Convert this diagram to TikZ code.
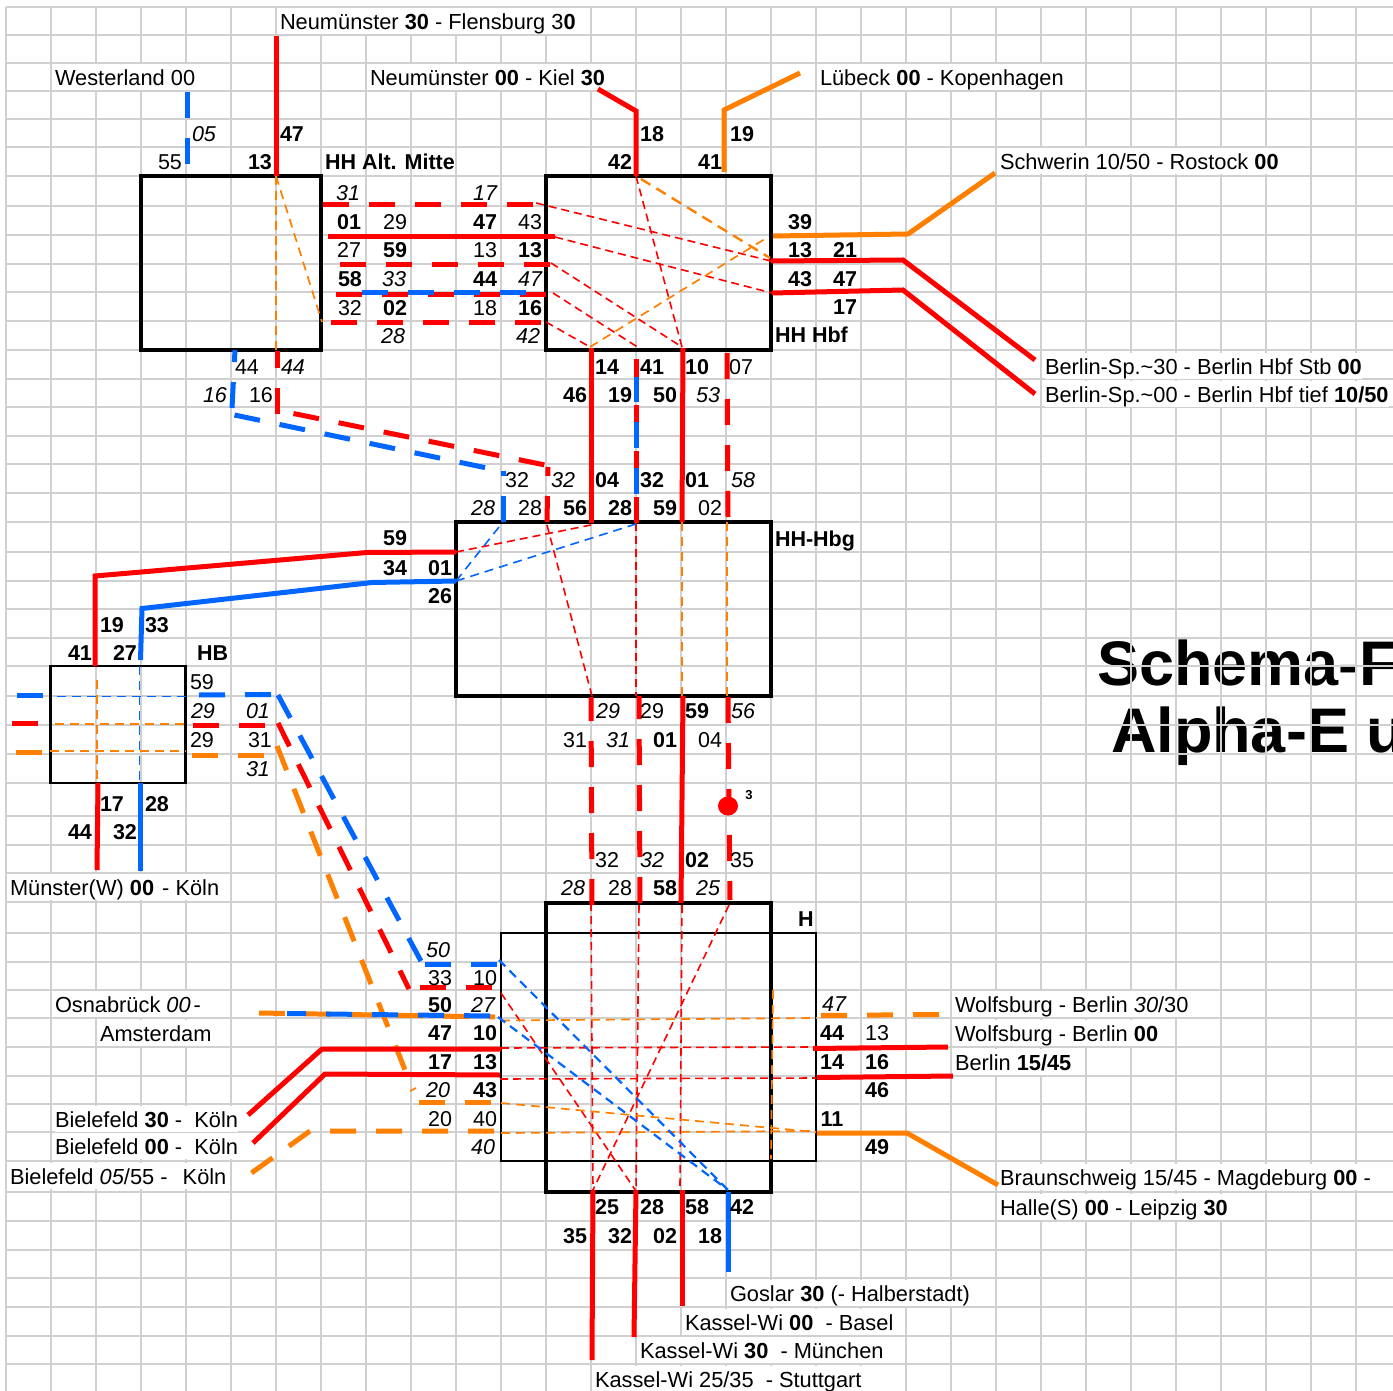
\documentclass[tikz,border=0pt]{standalone}
\usepackage{fontspec}
\usepackage{xcolor}
\setmainfont{Liberation Sans}
\usetikzlibrary{arrows.meta,positioning}

\definecolor{lineRed}{HTML}{FF0000}
\definecolor{lineBlue}{HTML}{0066FF}
\definecolor{lineOrange}{HTML}{FF8000}
\definecolor{gridGray}{HTML}{D0D0D0}

\begin{document}
\begin{tikzpicture}[
  x=1pt, y=-1pt,
  every node/.style={inner sep=0pt, outer sep=0pt, font=\fontsize{21.5}{24}\selectfont},
  stationbox/.style={rectangle, draw=black, line width=3.5pt},
  stationthin/.style={rectangle, draw=black, line width=2.6pt},
  redline/.style={draw=lineRed, line width=5pt},
  blueline/.style={draw=lineBlue, line width=5pt},
  orangeline/.style={draw=lineOrange, line width=5pt},
  longdash/.style={dash pattern=on 26pt off 20pt},
  redthin/.style={draw=lineRed, line width=1.6pt, dash pattern=on 8pt off 5pt},
  bluethin/.style={draw=lineBlue, line width=2.2pt, dash pattern=on 9pt off 6pt},
  orangethin/.style={draw=lineOrange, line width=1.7pt, dash pattern=on 9pt off 6pt},
  num/.style={anchor=center, text height=15.5pt, text depth=0pt},
  numb/.style={num, font=\fontsize{21.5}{24}\selectfont\bfseries},
  numi/.style={num, font=\fontsize{21.5}{24}\selectfont\itshape},
  caption/.style={anchor=west, fill=white, font=\fontsize{21.8}{24}\selectfont, text height=21.2pt, text depth=4.5pt},
  stationname/.style={anchor=west, font=\fontsize{21.5}{24}\selectfont\bfseries, text height=15.5pt, text depth=0pt},
  headline/.style={anchor=base west, font=\fontsize{63}{66}\selectfont\bfseries}
]
\fill[white] (0,0) rectangle (1393,1391);
\useasboundingbox (0,0) rectangle (1393,1391);
\clip (0,0) rectangle (1393,1391);

% title lies under the grid
\node[headline] (title1) at (1097,685) {Schema-F};
\node[headline] (title2) at (1111,752) {Alpha-E u};

% sheet grid
\foreach \gx in {0,...,30}
  \draw[gridGray, line width=1.7pt] ({6+45*\gx},7) -- ({6+45*\gx},1391);
\foreach \gy in {7,35,63,91,119,147,176,206,235,264,292,321,350,379,407,436,464,493,522,552,581,609,638,666,696,725,754,783,816,845,873,902,933,962,990,1018,1047,1076,1104,1132,1161,1192,1221,1250,1278,1307,1336,1364}
  \draw[gridGray, line width=1.7pt] (6,\gy) -- (1393,\gy);

% line names
\node[caption] (capFlens) at (280,21) {Neumünster \textbf{30} - Flensburg 3\textbf{0}};
\node[caption] (capWest) at (55,77) {Westerland 00};
\node[caption] (capKiel) at (370,77) {Neumünster \textbf{00} - Kiel \textbf{30}};
\node[caption] (capLueb) at (820,77) {Lübeck \textbf{00} - Kopenhagen};
\node[caption] (capRost) at (1000,161) {Schwerin 10/50 - Rostock \textbf{00}};
\node[caption] (capBer1) at (1045,366) {Berlin-Sp.\textasciitilde30 - Berlin Hbf Stb \textbf{00}};
\node[caption] (capBer2) at (1045,394) {Berlin-Sp.\textasciitilde00 - Berlin Hbf tief \textbf{10/50}};
\node[caption] (capMuen) at (10,887) {Münster(W) \textbf{00}\hspace{2pt} - Köln};
\node[caption] (capOsna) at (55,1004) {Osnabrück \textit{00}\hspace{3pt}-};
\node[caption] (capAmst) at (100,1033) {Amsterdam};
\node[caption] (capWob1) at (955,1004) {Wolfsburg - Berlin \textit{30}/30};
\node[caption] (capWob2) at (955,1033) {Wolfsburg - Berlin \textbf{00}};
\node[caption] (capBer3) at (955,1062) {Berlin \textbf{15/45}};
\node[caption] (capBie1) at (55,1119) {Bielefeld \textbf{30} -\ \ Köln};
\node[caption] (capBie2) at (55,1146) {Bielefeld \textbf{00} -\ \ Köln};
\node[caption] (capBie3) at (10,1176) {Bielefeld \textit{05}/55 -\hspace{3pt}\ \ Köln};
\node[caption] (capBrau) at (1000,1177) {Braunschweig 15/45 - Magdeburg \textbf{00} -};
\node[caption] (capHall) at (1000,1207) {Halle(S) \textbf{00} - Leipzig \textbf{30}};
\node[caption] (capGosl) at (730,1293) {Goslar \textbf{30} (- Halberstadt)};
\node[caption] (capBase) at (685,1322) {Kassel-Wi \textbf{00}\ \ - Basel};
\node[caption] (capMuc) at (640,1350) {Kassel-Wi \textbf{30}\ \ - München};
\node[caption] (capStut) at (595,1379) {Kassel-Wi 25/35\ \ - Stuttgart};

% stations
\node[stationbox, minimum width=180pt, minimum height=174pt] (alt) at (231,263) {};
\node[stationbox, minimum width=225pt, minimum height=174pt] (hbf) at (658.5,263) {};
\node[stationbox, minimum width=315pt, minimum height=174pt] (hbg) at (613.5,609) {};
\node[stationthin, minimum width=135pt, minimum height=117pt] (hb) at (118,724.5) {};
\node[stationbox, minimum width=225pt, minimum height=289pt] (hanA) at (658.5,1047.5) {};
\node[stationthin, minimum width=315pt, minimum height=228pt] (hanB) at (658.5,1047) {};
\node[stationname] (nameAlt) at (325,162) {HH Alt. Mitte};
\node[stationname] (nameHbf) at (775,335) {HH Hbf};
\node[stationname] (nameHbg) at (775,539) {HH-Hbg};
\node[stationname] (nameHb) at (197,653) {HB};
\node[stationname] (nameHan) at (798,919) {H};

% end and bend points
\coordinate (flens) at (276,36); \coordinate (altN) at (276,176);
\coordinate (altS) at (276,350); \coordinate (altE) at (322,322);
\coordinate (west1) at (187,92); \coordinate (west2) at (187,165);
\coordinate (aH1a) at (323,205); \coordinate (aH1b) at (534,205);
\coordinate (aH2a) at (328,237); \coordinate (aH2b) at (555,237);
\coordinate (aH3a) at (340,265); \coordinate (aH3b) at (551,265);
\coordinate (aH4a) at (336,294.5); \coordinate (aH4b) at (547,294.5);
\coordinate (aH4c) at (362,293); \coordinate (aH4d) at (526,293);
\coordinate (aH5a) at (331,322); \coordinate (aH5b) at (541,322);
\coordinate (hIn1) at (536,203); \coordinate (hIn3) at (551,263);
\coordinate (hIn4) at (553,293); \coordinate (hIn5) at (546,322);
\coordinate (hS1) at (590,347); \coordinate (hS2) at (639,348); \coordinate (hS3) at (682,347);
\coordinate (kiel) at (598,89); \coordinate (kiel1) at (636,111); \coordinate (hN1) at (636,176);
\coordinate (hNor) at (641,179); \coordinate (hEor) at (770,258); \coordinate (hEor2) at (768,237);
\coordinate (lueb) at (800,73); \coordinate (lueb1) at (724,110); \coordinate (hN2) at (724,172);
\coordinate (sch0) at (773,236); \coordinate (sch1) at (908,234); \coordinate (sch2) at (995,173);
\coordinate (hR1) at (771,261); \coordinate (ber1) at (903,260); \coordinate (ber2) at (1035,360);
\coordinate (hR2) at (772,293); \coordinate (ber3) at (903,290); \coordinate (ber4) at (1035,394);
% Hbf to Hbg
\coordinate (sA) at (591,348); \coordinate (gA) at (591,523);
\coordinate (sBr) at (636,359); \coordinate (gB) at (636,523);
\coordinate (sBb) at (636,377); \coordinate (gBb) at (636,494);
\coordinate (sC) at (683,348); \coordinate (gC) at (682,522);
\coordinate (sD) at (727,353); \coordinate (gD) at (728,517);
% Alt to Hbg
\coordinate (altB1) at (235,350); \coordinate (altB2) at (232,408);
\coordinate (altB3) at (234.5,415); \coordinate (altB4) at (487,468);
\coordinate (gE) at (503,522); \coordinate (gE1) at (503,471);
\coordinate (altR1) at (277,351); \coordinate (altR2) at (277,414);
\coordinate (altR3) at (293.5,413.5); \coordinate (altR4) at (545,465);
\coordinate (gF) at (547,522); \coordinate (gF1) at (548,467);
% inside Hbg
\coordinate (gW1) at (456,552); \coordinate (gW2) at (456,581);
\coordinate (gIn1) at (591,525); \coordinate (gIn2) at (636,524);
\coordinate (gSt) at (547,525); \coordinate (gSa) at (592,696);
\coordinate (gB2) at (636,696); \coordinate (gC2) at (682,696); \coordinate (gD2) at (727,696);
\coordinate (gD0) at (727,522); \coordinate (gC0) at (682,522);
% Hbg to HB
\coordinate (wR1) at (367,552.5); \coordinate (wR2) at (95,576); \coordinate (wR3) at (95,666);
\coordinate (wB1) at (372,582.5); \coordinate (wB2) at (142,608.5); \coordinate (wB3) at (140.5,660);
\coordinate (koelR1) at (98,783); \coordinate (koelR2) at (97,870);
\coordinate (koelB1) at (140,783); \coordinate (koelB2) at (140,871);
% inside HB
\coordinate (hbV1) at (97,680); \coordinate (hbV1b) at (97,783);
\coordinate (hbV2) at (139.5,666); \coordinate (hbV2b) at (139.5,783);
\coordinate (hbH1) at (57,696.5); \coordinate (hbH1b) at (190,696.5);
\coordinate (hbH2) at (55,724); \coordinate (hbH2b) at (187,724);
\coordinate (hbH3) at (50,751); \coordinate (hbH3b) at (186,751);
% stubs either side of HB
\coordinate (sbA) at (17,695); \coordinate (sbB) at (43,695);
\coordinate (srA) at (12,723); \coordinate (srB) at (39,723);
\coordinate (soA) at (16,752); \coordinate (soB) at (42,752);
\coordinate (ebA) at (199,695); \coordinate (ebB) at (272,694.5);
\coordinate (erA) at (193,725); \coordinate (erB) at (266,725);
\coordinate (eoA) at (192,755); \coordinate (eoB) at (264,755);
% HB to H
\coordinate (dB1) at (278,695); \coordinate (dB2) at (422,963);
\coordinate (dR1) at (278,723); \coordinate (dR2) at (409,989);
\coordinate (dO1) at (277,746); \coordinate (dO2) at (405,1070);
\coordinate (dO3) at (410,1091); \coordinate (dO4) at (416,1088);
\coordinate (nB1) at (425,964); \coordinate (nB2) at (498,964);
\coordinate (nR1) at (420,987); \coordinate (nR2) at (492,987);
\coordinate (oOr1) at (259,1013); \coordinate (oOr2) at (495,1017);
\coordinate (oBl1) at (287,1013.5); \coordinate (oBl2) at (490,1016);
\coordinate (bR1) at (501,1049); \coordinate (bR2) at (322,1049); \coordinate (bR3) at (248,1115);
\coordinate (bS1) at (500,1075); \coordinate (bS2) at (325,1074); \coordinate (bS3) at (253,1143);
\coordinate (nO1) at (419,1102.5); \coordinate (nO2) at (491,1102.5);
\coordinate (bO1) at (494,1131); \coordinate (bO2) at (310,1131); \coordinate (bO3) at (250,1174);
% Hbg to H
\coordinate (hgA) at (591,697); \coordinate (hnA) at (592,905);
\coordinate (hgB) at (639,696); \coordinate (hnB) at (640,903);
\coordinate (hgC) at (683,696); \coordinate (hnC) at (681,903);
\coordinate (hgD) at (728,697); \coordinate (hnD) at (730,900);
\coordinate (dot) at (728,806);
% inside H
\coordinate (iA) at (591,903); \coordinate (iAb) at (593,1190);
\coordinate (iB) at (639,905); \coordinate (iBb) at (636,1191);
\coordinate (iC) at (682,905); \coordinate (iCb) at (680,1187);
\coordinate (iD) at (729,905);
\coordinate (iO) at (773,990); \coordinate (iOb) at (771,1159);
\coordinate (iBl1) at (499,960); \coordinate (iBl2) at (498,1017); \coordinate (iBlE) at (728,1190);
\coordinate (iRd) at (501,993);
\coordinate (iW1) at (501,1048); \coordinate (iE1) at (815,1047);
\coordinate (iW2) at (500,1079); \coordinate (iE2) at (816,1078);
\coordinate (iW3) at (501,1020.5); \coordinate (iE3) at (817,1018);
\coordinate (iW4) at (501,1103); \coordinate (iE4) at (816,1132);
\coordinate (iW5) at (501,1133); \coordinate (iE5) at (816,1131);
% H outwards
\coordinate (xA1) at (593,1190); \coordinate (xA2) at (592,1360);
\coordinate (xB1) at (636,1190); \coordinate (xB2) at (634,1337);
\coordinate (xC1) at (682,1190); \coordinate (xC2) at (682,1306);
\coordinate (xD1) at (728,1192); \coordinate (xD2) at (728,1272);
\coordinate (rO1) at (821,1015.5); \coordinate (rO2) at (939,1014.5);
\coordinate (rR1) at (813,1048.5); \coordinate (rR2) at (948,1047);
\coordinate (rS1) at (817,1077.5); \coordinate (rS2) at (953,1076);
\coordinate (rT1) at (817,1133); \coordinate (rT2) at (907,1133); \coordinate (rT3) at (998,1185);

% thin runs through the stations
\draw[orangethin] (altN) -- (altS);
\draw[orangethin] (altN) -- (altE);
\draw[redthin] (hIn1) -- (hR1);
\draw[redthin] (aH2b) -- (hR2);
\draw[redthin] (hIn3) -- (hS3);
\draw[redthin] (hIn4) -- (hS2);
\draw[redthin] (hIn5) -- (hS1);
\draw[redthin] (hN1) -- (hS3);
\draw[orangethin, line width=2.4pt, dash pattern=on 11pt off 7pt] (hNor) -- (hEor);
\draw[orangethin] (hS1) -- (hEor2);
\draw[redthin] (gW1) -- (gIn1);
\draw[redthin] (gSt) -- (gSa);
\draw[redthin] (gB) -- (gB2);
\draw[bluethin, line width=1.6pt] (gW2) -- (gE);
\draw[bluethin, line width=1.6pt] (gW2) -- (gIn2);
\draw[orangethin] (gC0) -- (gC2);
\draw[orangethin] (gD0) -- (gD2);
\draw[orangethin] (hbV1) -- (hbV1b);
\draw[bluethin, line width=1.6pt] (hbV2) -- (hbV2b);
\draw[bluethin, line width=1.6pt] (hbH1) -- (hbH1b);
\draw[orangethin] (hbH2) -- (hbH2b);
\draw[orangethin] (hbH3) -- (hbH3b);
\draw[redthin] (iA) -- (iAb);
\draw[redthin] (iB) -- (iBb);
\draw[redthin] (iC) -- (iCb);
\draw[redthin] (iD) -- (iAb);
\draw[redthin] (iRd) -- (iBb);
\draw[redthin] (iW1) -- (iE1);
\draw[redthin] (iW2) -- (iE2);
\draw[orangethin] (iW3) -- (iE3);
\draw[orangethin] (iW4) -- (iE4);
\draw[orangethin] (iW5) -- (iE5);
\draw[orangethin] (iO) -- (iOb);
\draw[bluethin] (iBl1) -- (iBlE);
\draw[bluethin] (iBl2) -- (iBlE);

% main lines
\draw[redline] (flens) -- (altN);
\draw[blueline, longdash] (west1) -- (west2);
\draw[redline, longdash] (aH1a) -- (aH1b);
\draw[redline] (aH2a) -- (aH2b);
\draw[redline, longdash] (aH3a) -- (aH3b);
\draw[redline, longdash] (aH4a) -- (aH4b);
\draw[blueline, longdash] (aH4c) -- (aH4d);
\draw[redline, longdash] (aH5a) -- (aH5b);
\draw[redline] (kiel) -- (kiel1) -- (hN1);
\draw[orangeline] (lueb) -- (lueb1) -- (hN2);
\draw[orangeline] (sch0) -- (sch1) -- (sch2);
\draw[redline] (hR1) -- (ber1) -- (ber2);
\draw[redline] (hR2) -- (ber3) -- (ber4);
\draw[redline] (sA) -- (gA);
\draw[redline, longdash] (gB) -- (sBr);
\draw[blueline, longdash] (gBb) -- (sBb);
\draw[redline] (sC) -- (gC);
\draw[redline, longdash] (sD) -- (gD);
\draw[blueline, longdash] (altB2) -- (altB1);
\draw[blueline, longdash] (altB3) -- (altB4);
\draw[blueline, longdash] (gE) -- (gE1);
\draw[redline, longdash] (altR2) -- (altR1);
\draw[redline, longdash] (altR3) -- (altR4);
\draw[redline, longdash] (gF) -- (gF1);
\draw[redline] (gW1) -- (wR1) -- (wR2) -- (wR3);
\draw[blueline] (gW2) -- (wB1) -- (wB2) -- (wB3);
\draw[redline] (koelR1) -- (koelR2);
\draw[blueline] (koelB1) -- (koelB2);
\draw[blueline, longdash] (sbA) -- (sbB);
\draw[redline, longdash] (srA) -- (srB);
\draw[orangeline, longdash] (soA) -- (soB);
\draw[blueline, longdash] (ebA) -- (ebB);
\draw[redline, longdash] (erA) -- (erB);
\draw[orangeline, longdash] (eoA) -- (eoB);
\draw[blueline, longdash] (dB1) -- (dB2);
\draw[redline, longdash] (dR1) -- (dR2);
\draw[orangeline, longdash] (dO1) -- (dO2);
\draw[orangethin] (dO3) -- (dO4);
\draw[blueline, longdash] (nB1) -- (nB2);
\draw[redline, longdash] (nR1) -- (nR2);
\draw[orangeline, longdash] (oOr1) -- (oOr2);
\draw[blueline, longdash] (oBl2) -- (oBl1);
\draw[redline] (bR1) -- (bR2) -- (bR3);
\draw[redline] (bS1) -- (bS2) -- (bS3);
\draw[orangeline, longdash] (nO1) -- (nO2);
\draw[orangeline, longdash] (bO1) -- (bO2) -- (bO3);
\draw[redline, longdash] (hnA) -- (hgA);
\draw[redline, longdash] (hnB) -- (hgB);
\draw[redline] (hgC) -- (hnC);
\draw[redline, longdash] (hgD) -- (hnD);
\draw[redline] (xA1) -- (xA2);
\draw[redline] (xB1) -- (xB2);
\draw[redline] (xC1) -- (xC2);
\draw[blueline] (xD1) -- (xD2);
\draw[orangeline, longdash] (rO1) -- (rO2);
\draw[redline] (rR1) -- (rR2);
\draw[redline] (rS1) -- (rS2);
\draw[orangeline] (rT1) -- (rT2) -- (rT3);
\fill[lineRed] (dot) ellipse (10pt and 9.5pt);
\node[font=\fontsize{13}{14}\selectfont\bfseries] (dotnote) at (749,795) {3};

% times at HH Alt. Mitte
\node[numi] (t05) at (204,134) {05};
\node[numb] (t47a) at (292,134) {47};
\node[num] (t55) at (170,162) {55};
\node[numb] (t13a) at (260,162) {13};
\node[numi] (t31a) at (348,193) {31};
\node[numi] (t17a) at (485,193) {17};
\node[numb] (t01a) at (349,222) {01};
\node[num] (t29a) at (395,222) {29};
\node[numb] (t47b) at (485,222) {47};
\node[num] (t43a) at (530,222) {43};
\node[num] (t27a) at (349,250) {27};
\node[numb] (t59a) at (395,250) {59};
\node[num] (t13b) at (485,250) {13};
\node[numb] (t13c) at (530,250) {13};
\node[numb] (t58a) at (350,279) {58};
\node[numi] (t33a) at (394,279) {33};
\node[numb] (t44a) at (485,279) {44};
\node[numi] (t47c) at (530,279) {47};
\node[num] (t32a) at (350,308) {32};
\node[numb] (t02a) at (395,308) {02};
\node[num] (t18a) at (485,308) {18};
\node[numb] (t16a) at (530,308) {16};
\node[numi] (t28a) at (393,336) {28};
\node[numi] (t42a) at (528,336) {42};
\node[num] (t44b) at (247,367) {44};
\node[numi] (t44c) at (293,367) {44};
\node[numi] (t16b) at (215,395) {16};
\node[num] (t16c) at (261,395) {16};
% times at HH Hbf
\node[numb] (t18b) at (652,134) {18};
\node[numb] (t19a) at (742,134) {19};
\node[numb] (t42b) at (620,162) {42};
\node[numb] (t41a) at (710,162) {41};
\node[numb] (t39a) at (800,222) {39};
\node[numb] (t13d) at (800,250) {13};
\node[numb] (t21a) at (845,250) {21};
\node[numb] (t43b) at (800,279) {43};
\node[numb] (t47d) at (845,279) {47};
\node[numb] (t17b) at (845,307) {17};
\node[numb] (t14a) at (607,367) {14};
\node[numb] (t41b) at (652,367) {41};
\node[numb] (t10a) at (697,367) {10};
\node[num] (t07a) at (741,367) {07};
\node[numb] (t46a) at (575,395) {46};
\node[numb] (t19b) at (620,395) {19};
\node[numb] (t50a) at (665,395) {50};
\node[numi] (t53a) at (708,395) {53};
% times at HH-Hbg
\node[num] (t32b) at (517,480) {32};
\node[numi] (t32c) at (563,480) {32};
\node[numb] (t04a) at (607,480) {04};
\node[numb] (t32d) at (652,480) {32};
\node[numb] (t01b) at (697,480) {01};
\node[numi] (t58b) at (743,480) {58};
\node[numi] (t28b) at (483,508) {28};
\node[num] (t28c) at (530,508) {28};
\node[numb] (t56a) at (575,508) {56};
\node[numb] (t28d) at (620,508) {28};
\node[numb] (t59b) at (665,508) {59};
\node[num] (t02b) at (710,508) {02};
\node[numb] (t59c) at (395,538) {59};
\node[numb] (t34a) at (395,568) {34};
\node[numb] (t01c) at (440,568) {01};
\node[numb] (t26a) at (440,596) {26};
\node[numi] (t29b) at (608,711) {29};
\node[num] (t29c) at (652,711) {29};
\node[numb] (t59d) at (697,711) {59};
\node[numi] (t56b) at (743,711) {56};
\node[num] (t31b) at (575,740) {31};
\node[numi] (t31c) at (618,740) {31};
\node[numb] (t01d) at (665,740) {01};
\node[num] (t04b) at (710,740) {04};
% times at HB
\node[numb] (t19c) at (112,625) {19};
\node[numb] (t33b) at (157,625) {33};
\node[numb] (t41c) at (80,653) {41};
\node[numb] (t27b) at (125,653) {27};
\node[num] (t59e) at (202,682) {59};
\node[numi] (t29d) at (203,711) {29};
\node[numi] (t01e) at (258,711) {01};
\node[num] (t29e) at (202,740) {29};
\node[num] (t31d) at (260,740) {31};
\node[numi] (t31e) at (258,769) {31};
\node[numb] (t17c) at (112,804) {17};
\node[numb] (t28e) at (157,804) {28};
\node[numb] (t44d) at (80,832) {44};
\node[numb] (t32e) at (125,832) {32};
% times at H
\node[num] (t32f) at (607,860) {32};
\node[numi] (t32g) at (652,860) {32};
\node[numb] (t02c) at (697,860) {02};
\node[num] (t35a) at (742,860) {35};
\node[numi] (t28f) at (573,888) {28};
\node[num] (t28g) at (620,888) {28};
\node[numb] (t58c) at (665,888) {58};
\node[numi] (t25a) at (708,888) {25};
\node[numi] (t50b) at (438,950) {50};
\node[num] (t33c) at (440,978) {33};
\node[num] (t10b) at (485,978) {10};
\node[numb] (t50c) at (440,1005) {50};
\node[numi] (t27c) at (483,1005) {27};
\node[numb] (t47e) at (440,1033) {47};
\node[numb] (t10c) at (485,1033) {10};
\node[numb] (t17d) at (440,1062) {17};
\node[numb] (t13e) at (485,1062) {13};
\node[numi] (t20a) at (438,1090) {20};
\node[numb] (t43c) at (485,1090) {43};
\node[num] (t20b) at (440,1119) {20};
\node[num] (t40a) at (485,1119) {40};
\node[numi] (t40b) at (483,1147) {40};
\node[numi] (t47f) at (834,1004) {47};
\node[numb] (t44e) at (832,1033) {44};
\node[num] (t13f) at (877,1033) {13};
\node[numb] (t14b) at (832,1062) {14};
\node[numb] (t16d) at (877,1062) {16};
\node[numb] (t46b) at (877,1090) {46};
\node[numb] (t11a) at (832,1119) {11};
\node[numb] (t49a) at (877,1147) {49};
\node[numb] (t25b) at (607,1207) {25};
\node[numb] (t28h) at (652,1207) {28};
\node[numb] (t58d) at (697,1207) {58};
\node[numb] (t42c) at (742,1207) {42};
\node[numb] (t35b) at (575,1236) {35};
\node[numb] (t32h) at (620,1236) {32};
\node[numb] (t02d) at (665,1236) {02};
\node[numb] (t18c) at (710,1236) {18};
\end{tikzpicture}
\end{document}
